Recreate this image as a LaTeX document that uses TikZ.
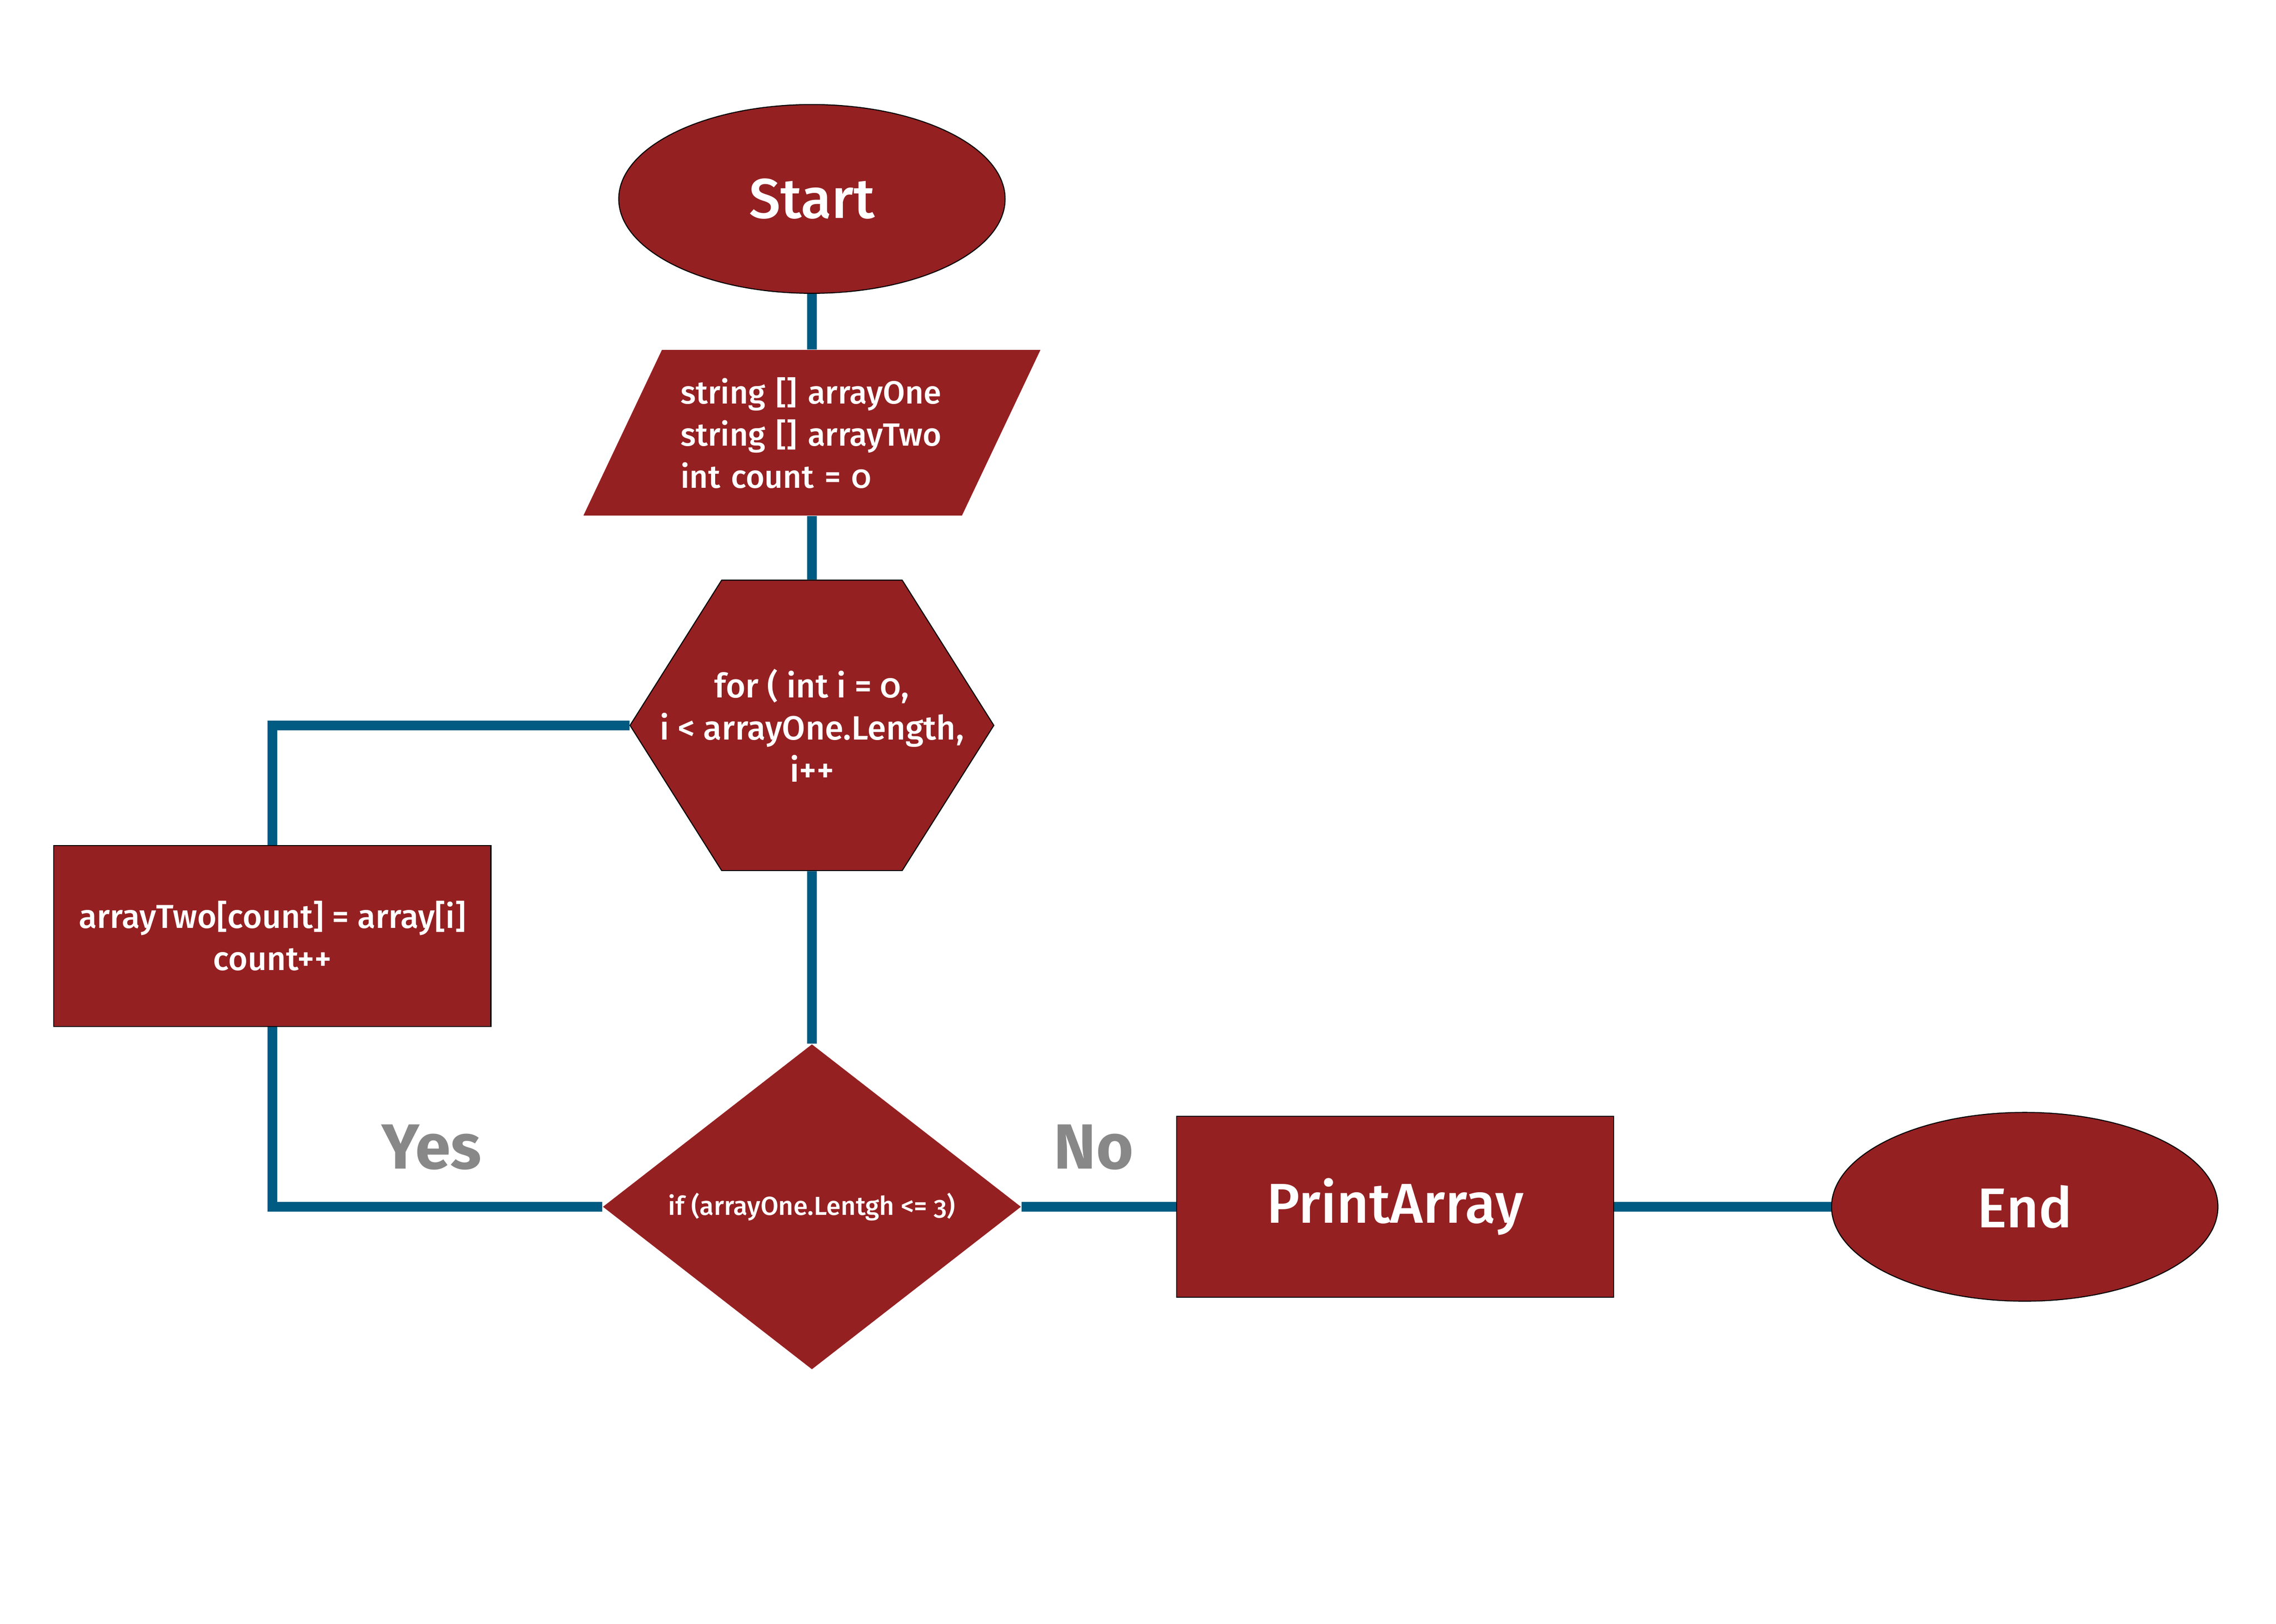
\documentclass[tikz,border=0pt]{standalone}
\usepackage{fontspec}
\IfFontExistsTF{Fira Sans Medium}
	{\setmainfont{Fira Sans Medium}[Numbers=OldStyle, BoldFont={Fira Sans Bold}]}
	{\setmainfont{Fira Sans}[Numbers=OldStyle, UprightFeatures={FakeBold=0.8}]}
\usetikzlibrary{shapes.geometric,shapes.symbols,backgrounds}
\definecolor{boxred}{RGB}{148,32,34}
\definecolor{linkblue}{RGB}{0,91,130}
\definecolor{labelgray}{RGB}{136,136,136}
\begin{document}
\begin{tikzpicture}[line join=miter,
		box/.style={fill=boxred, text=white, inner sep=0pt},
		term/.style={box, ellipse, draw=black, thin, minimum width=5.32cm, minimum height=2.6cm, font=\fontsize{22}{26}\selectfont},
		inbox/.style={box, trapezium, trapezium left angle=64.65, trapezium right angle=115.35, text width=3.62cm, inner xsep=0.12cm, inner ysep=0.3cm, minimum height=2.28cm, align=left, font=\fontsize{12.6}{16.5}\selectfont},
		loopbox/.style={box, signal, signal to=west and east, signal pointer angle=115.5, draw=black, thin, inner xsep=-0.85cm, minimum height=4cm, align=center, font=\fontsize{13.2}{16.5}\selectfont},
		stepbox/.style={box, rectangle, draw=black, thin, minimum width=6.02cm, minimum height=2.49cm, align=center, font=\fontsize{13}{16.5}\selectfont},
		testbox/.style={box, diamond, aspect=1.3, minimum width=5.76cm, minimum height=4.48cm, font=\fontsize{10.2}{12}\selectfont},
		answer/.style={text=labelgray, font=\bfseries\fontsize{25}{30}\selectfont},
		link/.style={draw=linkblue, line width=3.8pt}]
	\useasboundingbox (0,-0.1) rectangle (31.34,22.26);
	% nodes
	\node[term] (start) at (11.18,19.52) {Start};
	\node[inbox] (input) at (11.18,16.3) {string [] arrayOne\\string [] arrayTwo\\int count = 0};
	\node[loopbox] (loop) at (11.18,12.27) {for ( int i = 0,\\i < arrayOne.Length,\\i++};
	\node[stepbox] (update) at (3.75,9.37) {arrayTwo[count] = array[i]\\count++};
	\node[testbox] (test) at (11.18,5.64) {if (arrayOne.Lentgh <= 3)};
	\node[stepbox, font=\fontsize{22}{26}\selectfont] (print) at (19.21,5.64) {PrintArray};
	\node[term] (end) at (27.88,5.64) {End};
	\node[answer] (yes) at (5.94,6.46) {Yes};
	\node[answer] (no) at (15.06,6.46) {No};
	% connectors
	\begin{pgfonlayer}{background}
		\draw[link] (start) -- (input);
		\draw[link] (input) -- (loop);
		\draw[link] (loop) -- (test);
		\draw[link] (loop.west) -| (update);
		\draw[link] (update) |- (test.west);
		\draw[link] (test.east) -- (print);
		\draw[link] (print) -- (end);
	\end{pgfonlayer}
\end{tikzpicture}
\end{document}
